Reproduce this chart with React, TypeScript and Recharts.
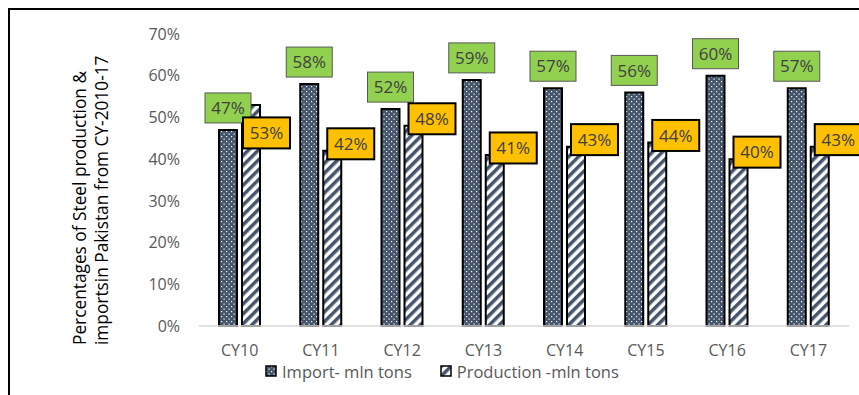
import { BarChart, Bar, XAxis, YAxis, LabelList } from 'recharts'

const years = ['CY10', 'CY11', 'CY12', 'CY13', 'CY14', 'CY15', 'CY16', 'CY17']
const importShare = [47, 58, 52, 59, 57, 56, 60, 57]
const productionShare = [53, 42, 48, 41, 43, 44, 40, 43]
const yTicks = [0, 10, 20, 30, 40, 50, 60, 70]

const SLATE = '#44546A'
const FONT = '"Open Sans", sans-serif'

const data = years.map((year, i) => ({
  year,
  imports: importShare[i],
  production: productionShare[i],
}))

const BOX_W = 46
const BOX_H = 30

// green value tag sitting just above each import bar
function ImportTag(props: any) {
  const { x, y, width, value } = props
  const cx = x + width / 2
  const top = y - 7 - BOX_H
  return (
    <g>
      <rect x={cx - BOX_W / 2} y={top} width={BOX_W} height={BOX_H} fill="#92D050" stroke="#595959" strokeWidth={1} />
      <text x={cx} y={top + BOX_H / 2} dy="0.36em" textAnchor="middle" fontFamily={FONT} fontSize={17} fill="#404040">
        {value}%
      </text>
    </g>
  )
}

// yellow tag on production bars; pushed down when it would hit the import tag
function ProductionTag(props: any) {
  const { x, y, value, index } = props
  const clash = productionShare[index] > importShare[index]
  const left = clash ? x + 1 : x + 4
  const cy = clash ? y + 28 : y - 7
  const top = cy - (BOX_H + 1) / 2
  return (
    <g>
      <rect x={left} y={top} width={BOX_W + 1} height={BOX_H + 1} fill="#FFC000" stroke="#000" strokeWidth={2} />
      <text x={left + (BOX_W + 1) / 2} y={cy} dy="0.36em" textAnchor="middle" fontFamily={FONT} fontSize={17} fill="#404040">
        {value}%
      </text>
    </g>
  )
}

// two-line rotated title, both lines starting near the bottom of the plot
function AxisTitle(props: any) {
  const { viewBox } = props
  const cx = viewBox.x + 76
  const cy = viewBox.y + viewBox.height + 19
  return (
    <text x={cx} y={cy} transform={`rotate(-90 ${cx} ${cy})`} textAnchor="start" fontFamily={FONT} fontSize={17.3} fill="#000">
      <tspan x={cx} dy={0}>Percentages  of Steel production &amp;</tspan>
      <tspan x={cx} dy={22}>importsin Pakistan from CY-2010-17</tspan>
    </text>
  )
}

function LegendBox() {
  const item = (fill: string, label: string) => (
    <div style={{ display: 'flex', alignItems: 'center', marginRight: 28 }}>
      <svg width={12} height={12} style={{ marginRight: 5 }}>
        <rect x={1} y={1} width={10} height={10} fill={fill} stroke="#000" strokeWidth={1.5} />
      </svg>
      <span style={{ fontFamily: FONT, fontSize: 16.5, color: '#595959' }}>{label}</span>
    </div>
  )
  return (
    <div style={{ position: 'absolute', left: 255, top: 349, display: 'flex', alignItems: 'center', height: 24 }}>
      {item('url(#dots)', 'Import- mln tons')}
      {item('url(#stripes)', 'Production -mln tons')}
    </div>
  )
}

export default function App() {
  return (
    <div
      style={{
        position: 'fixed',
        left: 8,
        top: 8,
        width: 851,
        height: 387,
        overflow: 'hidden',
        borderTop: '2px solid #000',
        borderLeft: '2px solid #000',
        boxSizing: 'border-box',
        background: '#fff',
      }}
    >
      <BarChart
        width={900}
        height={375}
        data={data}
        margin={{ top: 24, right: 61, bottom: 29, left: 0 }}
        barSize={18}
        barGap={5}
      >
        <defs>
          <pattern id="dots" width={5} height={5} patternUnits="userSpaceOnUse">
            <rect width={5} height={5} fill={SLATE} />
            <rect x={1} y={1} width={1.2} height={1.2} fill="#fff" />
            <rect x={3.5} y={3.5} width={1.2} height={1.2} fill="#fff" />
          </pattern>
          <pattern id="stripes" width={7} height={7} patternUnits="userSpaceOnUse" patternTransform="rotate(45)">
            <rect width={7} height={7} fill="#fff" />
            <rect width={3.5} height={7} fill={SLATE} />
          </pattern>
        </defs>
        <XAxis
          dataKey="year"
          height={30}
          interval={0}
          tickLine={false}
          tickMargin={13}
          axisLine={{ stroke: '#D9D9D9', strokeWidth: 1.5 }}
          tick={{ fontFamily: FONT, fontSize: 16, fill: '#595959' }}
        />
        <YAxis
          width={189}
          domain={[0, 70]}
          ticks={yTicks}
          axisLine={false}
          tickLine={false}
          tickMargin={13}
          tickFormatter={(v: number) => `${v}%`}
          tick={{ fontFamily: FONT, fontSize: 16, fill: '#595959' }}
          label={{ content: AxisTitle }}
        />
        <Bar dataKey="imports" fill="url(#dots)" stroke="#000" strokeWidth={2} isAnimationActive={false}>
          <LabelList dataKey="imports" content={ImportTag} />
        </Bar>
        <Bar dataKey="production" fill="url(#stripes)" stroke="#000" strokeWidth={2} isAnimationActive={false}>
          <LabelList dataKey="production" content={ProductionTag} />
        </Bar>
      </BarChart>
      <LegendBox />
    </div>
  )
}
